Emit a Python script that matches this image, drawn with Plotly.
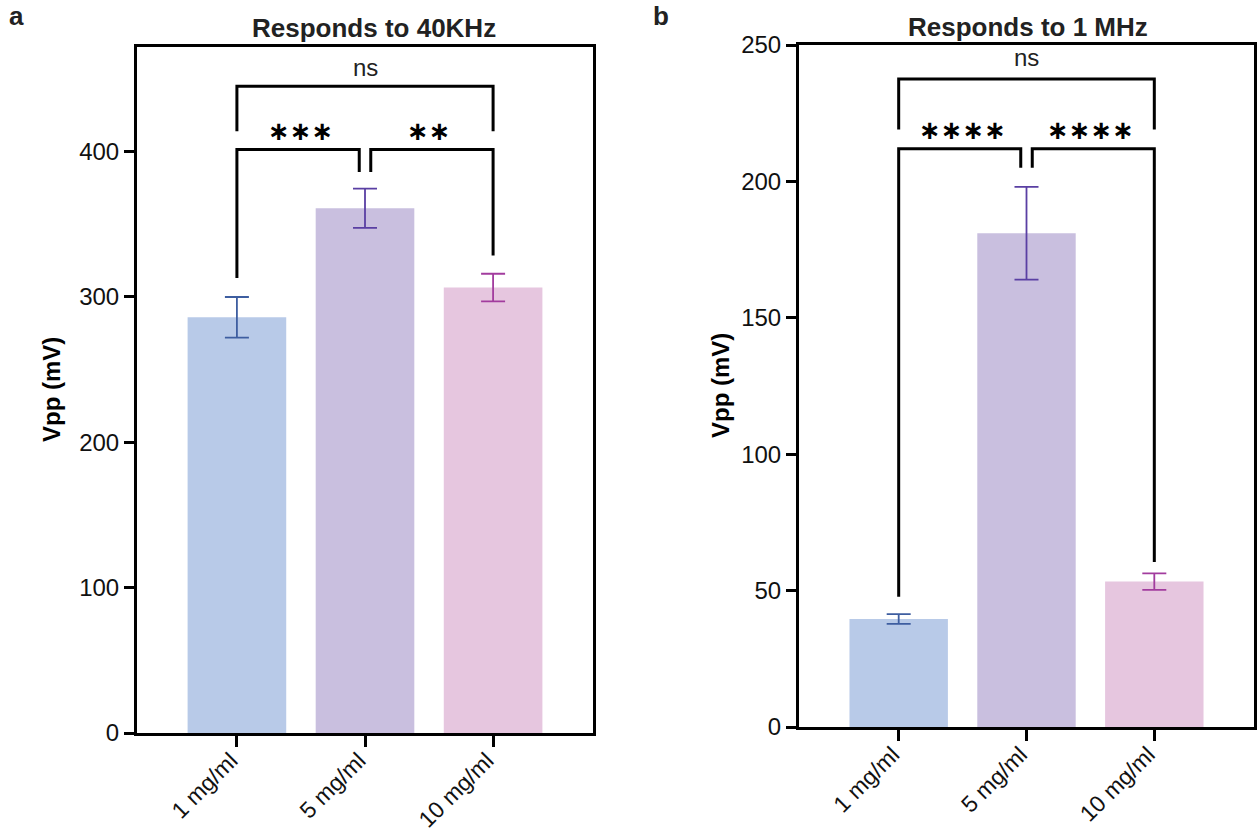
import plotly.graph_objects as go

# ---------------- data ----------------
categories = ["1 mg/ml", "5 mg/ml", "10 mg/ml"]
a_mean = [286, 361, 306.5]
a_err = [14, 13.5, 9.5]
b_mean = [39.6, 181, 53.3]
b_err = [1.8, 17, 3.0]
a_yticks = [0, 100, 200, 300, 400]
b_yticks = [0, 50, 100, 150, 200, 250]

# significance brackets: (left cat, right cat, label, bar y, left leg end, right leg end)
a_brackets = [(0, 2, "ns", 445, 414, 414), (0, 1, "***", 401.5, 313, 386), (1, 2, "**", 401.5, 386, 328.5)]
b_brackets = [(0, 2, "ns", 237.5, 219, 219), (0, 1, "****", 212, 47.7, 205), (1, 2, "****", 212, 205, 60.5)]

bar_colors = ["#B8CAE8", "#C9BFDF", "#E6C6DF"]
err_colors = ["#3E5EA0", "#5A3FA3", "#A23C9E"]

W, H = 1257, 836


def px(x):
    return x / W


def py(y):
    return 1 - y / H


fig = go.Figure()

for ax, means, errs in [("", a_mean, a_err), ("2", b_mean, b_err)]:
    for i, cat in enumerate(categories):
        fig.add_trace(go.Bar(
            x=[i], y=[means[i]], width=0.77,
            marker=dict(color=bar_colors[i], line=dict(width=0)),
            error_y=dict(type="data", array=[errs[i]], visible=True,
                         color=err_colors[i], thickness=1.8, width=12),
            xaxis="x" + ax, yaxis="y" + ax, showlegend=False,
        ))

shapes = []
annotations = []
inner = 0.045
for ax, brackets, ns_dy, star_dy in [("", a_brackets, 13, 13), ("2", b_brackets, 8, 7)]:
    for (l, r, lab, yb, yl, yr) in brackets:
        xl = l + (inner if l == 1 else 0)
        xr = r - (inner if r == 1 else 0)
        path = f"M {xl},{yl} L {xl},{yb} L {xr},{yb} L {xr},{yr}"
        shapes.append(dict(type="path", path=path, xref="x" + ax, yref="y" + ax,
                           line=dict(color="black", width=3)))
        if lab == "ns":
            annotations.append(dict(x=(l + r) / 2, y=yb + ns_dy, xref="x" + ax, yref="y" + ax,
                                    text="ns", showarrow=False, yanchor="middle", xanchor="center",
                                    font=dict(family="Liberation Sans, Arial", size=24, color="#222")))
        else:
            annotations.append(dict(x=(l + r) / 2, y=yb + star_dy, xref="x" + ax, yref="y" + ax,
                                    text="<b>" + lab.replace("*", "∗") + "</b>", showarrow=False,
                                    yanchor="middle", xanchor="center",
                                    font=dict(family="DejaVu Sans", size=26, color="black")))

# titles, labels
title_font = dict(family="Liberation Sans, Arial", size=26, color="#222")
label_font = dict(family="Liberation Sans, Arial", size=26, color="#222")
ytitle_font = dict(family="Liberation Sans, Arial", size=24, color="black")
annotations += [
    dict(x=px(373.5), y=py(28), xref="paper", yref="paper", text="<b>Responds to 40KHz</b>",
         showarrow=False, font=title_font, xanchor="center", yanchor="middle"),
    dict(x=px(1028), y=py(27), xref="paper", yref="paper", text="<b>Responds to 1 MHz</b>",
         showarrow=False, font=title_font, xanchor="center", yanchor="middle"),
    dict(x=px(16), y=py(16), xref="paper", yref="paper", text="<b>a</b>",
         showarrow=False, font=label_font, xanchor="center", yanchor="middle"),
    dict(x=px(661), y=py(16), xref="paper", yref="paper", text="<b>b</b>",
         showarrow=False, font=label_font, xanchor="center", yanchor="middle"),
    dict(x=px(52), y=py(390), xref="paper", yref="paper", text="<b>Vpp (mV)</b>", textangle=-90,
         showarrow=False, font=ytitle_font, xanchor="center", yanchor="middle"),
    dict(x=px(720), y=py(386), xref="paper", yref="paper", text="<b>Vpp (mV)</b>", textangle=-90,
         showarrow=False, font=ytitle_font, xanchor="center", yanchor="middle"),
]

tick_font = dict(family="Liberation Sans, Arial", size=24, color="#111")
xtick_font = dict(family="Liberation Sans, Arial", size=23, color="#111")
xcommon = dict(range=[-0.78, 2.78], tickmode="array", tickvals=[0, 1, 2], ticktext=categories,
               tickangle=-45, ticks="outside", ticklen=11, tickwidth=3, tickcolor="black",
               showline=True, linewidth=3, linecolor="black", mirror=True,
               showgrid=False, zeroline=False, tickfont=xtick_font, automargin=False,
               ticklabelstandoff=-9, ticklabelshift=-6)
ycommon = dict(ticks="outside", ticklen=10, tickwidth=3, tickcolor="black",
               showline=True, linewidth=3, linecolor="black", mirror=True,
               showgrid=False, zeroline=False, tickfont=tick_font, automargin=False,
               tickmode="array")

fig.update_layout(
    width=W, height=H,
    margin=dict(l=0, r=0, t=0, b=0),
    paper_bgcolor="white", plot_bgcolor="white",
    barmode="overlay",
    xaxis=dict(xcommon, domain=[px(137), px(593)], anchor="y"),
    yaxis=dict(ycommon, domain=[py(733), py(47)], range=[0, 472], tickvals=a_yticks, anchor="x"),
    xaxis2=dict(xcommon, domain=[px(799), px(1254)], anchor="y2"),
    yaxis2=dict(ycommon, domain=[py(727), py(45)], range=[0, 250], tickvals=b_yticks, anchor="x2"),
    shapes=shapes,
    annotations=annotations,
)

fig.write_html(
    "out.html",
    config={"responsive": False, "displayModeBar": False},
    post_script="document.body.style.margin='0px';document.body.style.padding='0px';"
                "document.body.style.overflow='hidden';",
)
